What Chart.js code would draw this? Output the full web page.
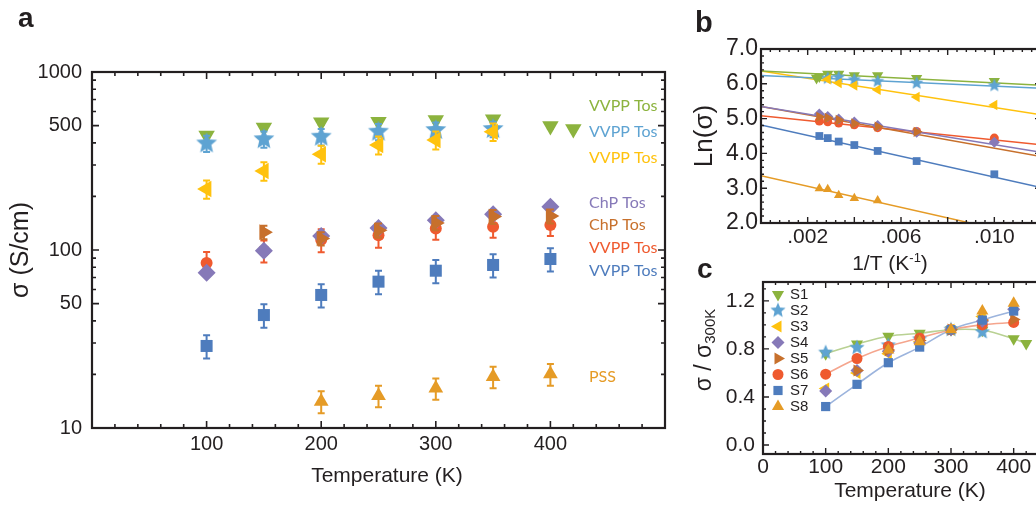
<!DOCTYPE html>
<html>
<head>
<meta charset="utf-8">
<title>Conductivity vs temperature</title>
<script src="https://cdn.jsdelivr.net/npm/chart.js@4.4.1/dist/chart.umd.min.js"></script>
<style>
  html, body { margin: 0; padding: 0; background: #ffffff; overflow: hidden; }
  body { width: 1036px; height: 506px; position: relative; }
  canvas { position: absolute; }
</style>
</head>
<body>
<canvas id="panelA" width="690" height="506" style="left:0px;top:0px"></canvas>
<canvas id="panelB" width="380" height="280" style="left:690px;top:0px"></canvas>
<canvas id="panelC" width="380" height="256" style="left:690px;top:250px"></canvas>
<script>
// ---------- series identity ----------
const SERIES = ['S1', 'S2', 'S3', 'S4', 'S5', 'S6', 'S7', 'S8'];
const MATERIALS = ['VVPP Tos', 'VVPP Tos', 'VVPP Tos', 'ChP Tos', 'ChP Tos', 'VVPP Tos', 'VVPP Tos', 'PSS'];

// ---------- panel a: conductivity (S/cm) vs temperature (K) ----------
const A_T_S1 = [100, 150, 200, 250, 300, 350, 400, 420];
const A_SIGMA_S1 = [440, 487, 522, 526, 537, 542, 497, 478];
const A_ERR_S1 = [14, 15, 16, 16, 16, 16, 15, 14];
const A_T_S2 = [100, 150, 200, 250, 300, 350];
const A_SIGMA_S2 = [397, 419, 433, 462, 472, 478];
const A_ERR_S2 = [42, 44, 46, 48, 48, 48];
const A_T_S3 = [100, 150, 200, 250, 300, 350];
const A_SIGMA_S3 = [220, 278, 345, 389, 415, 462];
const A_ERR_S3 = [26, 33, 40, 45, 48, 52];
const A_T_S4 = [100, 150, 200, 250, 300, 350, 400];
const A_SIGMA_S4 = [74.6, 99, 120, 133, 147, 159, 175];
const A_ERR_S4 = [4, 5, 6, 7, 7, 8, 9];
const A_T_S5 = [150, 200, 250, 300, 350, 400];
const A_SIGMA_S5 = [126, 116, 129, 142, 154, 155];
const A_ERR_S5 = [11, 10, 12, 13, 14, 14];
const A_T_S6 = [100, 150, 200, 250, 300, 350, 400];
const A_SIGMA_S6 = [84.6, 99, 114, 121, 132, 135, 138];
const A_ERR_S6 = [13, 14, 17, 18, 18, 18, 18];
const A_T_S7 = [100, 150, 200, 250, 300, 350, 400];
const A_SIGMA_S7 = [28.9, 43.1, 55.9, 66.4, 76.5, 82.4, 89];
const A_ERR_S7 = [4.3, 6.5, 8.4, 10, 11.5, 12.4, 13.4];
const A_T_S8 = [200, 250, 300, 350, 400];
const A_SIGMA_S8 = [14.1, 15.2, 16.7, 19.4, 20.1];
const A_ERR_S8 = [2.0, 2.1, 2.3, 2.7, 2.8];
const A_X_TICKS = [100, 200, 300, 400];
const A_Y_TICKS = [10, 50, 100, 500, 1000];

// ---------- panel b: Ln(sigma) vs 1/T with linear fits ----------
const B_X_S1 = [0.00238, 0.0025, 0.00286, 0.00333, 0.004, 0.005, 0.00667, 0.01];
const B_LN_S1 = [6.17, 6.21, 6.28, 6.28, 6.24, 6.24, 6.16, 6.07];
const B_X_S2 = [0.00286, 0.00333, 0.004, 0.005, 0.00667, 0.01];
const B_LN_S2 = [6.16, 6.19, 6.12, 6.07, 6.02, 5.95];
const B_X_S3 = [0.00286, 0.00333, 0.004, 0.005, 0.00667, 0.01];
const B_LN_S3 = [6.13, 6.02, 5.95, 5.83, 5.62, 5.39];
const B_X_S4 = [0.0025, 0.00286, 0.00333, 0.004, 0.005, 0.00667, 0.01];
const B_LN_S4 = [5.13, 5.06, 4.99, 4.90, 4.80, 4.61, 4.32];
const B_X_S5 = [0.0025, 0.00286, 0.00333, 0.004, 0.005, 0.00667];
const B_LN_S5 = [5.05, 5.02, 4.96, 4.86, 4.77, 4.62];
const B_X_S6 = [0.0025, 0.00286, 0.00333, 0.004, 0.005, 0.00667, 0.01];
const B_LN_S6 = [4.93, 4.91, 4.87, 4.82, 4.74, 4.63, 4.44];
const B_X_S7 = [0.0025, 0.00286, 0.00333, 0.004, 0.005, 0.00667, 0.01];
const B_LN_S7 = [4.50, 4.44, 4.34, 4.24, 4.07, 3.78, 3.40];
const B_X_S8 = [0.0025, 0.00286, 0.00333, 0.004, 0.005];
const B_LN_S8 = [2.99, 2.97, 2.80, 2.71, 2.65];
// fitted lines, given at the two ends of the 1/T range
const B_FIT_X = [0, 0.012];
const B_FIT_S1 = [6.37, 5.96];
const B_FIT_S2 = [6.24, 5.87];
const B_FIT_S3 = [6.37, 5.11];
const B_FIT_S4 = [5.35, 4.03];
const B_FIT_S5 = [5.35, 3.91];
const B_FIT_S6 = [5.08, 4.25];
const B_FIT_S7 = [4.82, 3.02];
const B_FIT_S8 = [3.36, 1.54];
const B_X_TICKS = [0.002, 0.006, 0.010];
const B_Y_TICKS = [2, 3, 4, 5, 6, 7];

// ---------- panel c: sigma normalised to 300 K ----------
const C_T_S1 = [100, 150, 200, 250, 300, 350, 400, 420];
const C_NORM_S1 = [0.76, 0.84, 0.905, 0.93, 0.96, 0.955, 0.885, 0.845];
const C_T_S2 = [100, 150, 200, 250, 300, 350];
const C_NORM_S2 = [0.77, 0.81, 0.83, 0.88, 0.96, 0.94];
const C_T_S3 = [100, 150, 200, 250, 300, 350];
const C_NORM_S3 = [0.47, 0.60, 0.76, 0.86, 0.96, 1.07];
const C_T_S4 = [100, 150, 200, 250, 300, 350, 400];
const C_NORM_S4 = [0.45, 0.62, 0.78, 0.85, 0.96, 1.03, 1.13];
const C_T_S5 = [150, 200, 250, 300, 350, 400];
const C_NORM_S5 = [0.62, 0.79, 0.87, 0.96, 1.04, 1.045];
const C_T_S6 = [100, 150, 200, 250, 300, 350, 400];
const C_NORM_S6 = [0.59, 0.72, 0.82, 0.89, 0.96, 1.0, 1.02];
const C_T_S7 = [100, 150, 200, 250, 300, 350, 400];
const C_NORM_S7 = [0.32, 0.505, 0.685, 0.815, 0.96, 1.04, 1.115];
const C_T_S8 = [200, 250, 300, 350, 400];
const C_NORM_S8 = [0.79, 0.86, 0.96, 1.115, 1.18];
const C_X_TICKS = [0, 100, 200, 300, 400];
const C_Y_TICKS = [0, 0.4, 0.8, 1.2];

// ---------- styling ----------
const FONT = "'Liberation Sans', Arial, Helvetica, sans-serif";
const LABEL_FONT = "Lato, 'Open Sans', sans-serif";
const INK = '#231f20';
const COLORS = ['#8cb33e', '#5ea3d2', '#ffc20e', '#8679b8', '#c7702c', '#ef5a2f', '#4e7cbd', '#e59b26'];
const CURVE_COLORS = ['#b9d193', null, null, null, null, '#f5a58d', '#9cb4dd', null];
const MARKERS = [
  { style: 'triangle', rotation: 180 },
  { style: 'star', rotation: 0 },
  { style: 'triangle', rotation: 270 },
  { style: 'rectRot', rotation: 0 },
  { style: 'triangle', rotation: 90 },
  { style: 'circle', rotation: 0 },
  { style: 'rect', rotation: 0 },
  { style: 'triangle', rotation: 0 }
];
// stacking of the marker layers (0 = bottom)
const DRAW_RANK = [0, 1, 2, 4, 5, 3, 6, 7];
const RADII_A = [9.5, 11, 9.5, 9, 9, 6, 8.5, 8.5];
const RADII_B = [6.5, 7, 6, 5.5, 6, 4.5, 5.5, 5.5];
const RADII_C = [7, 8, 7, 6.5, 7, 5.5, 6.5, 7];

function starImage(R, color) {
  const s = Math.ceil(2 * R + 2);
  const c = document.createElement('canvas');
  c.width = s; c.height = s;
  const g = c.getContext('2d');
  g.fillStyle = color;
  g.beginPath();
  for (let i = 0; i < 10; i++) {
    const r = i % 2 === 0 ? R : R * 0.45;
    const a = -Math.PI / 2 + i * Math.PI / 5;
    g.lineTo(s / 2 + r * Math.cos(a), s / 2 + r * Math.sin(a));
  }
  g.closePath();
  g.fill();
  return c;
}

function pts(xs, ys) { return xs.map((x, i) => ({ x: x, y: ys[i] })); }

function markerDataset(i, xs, ys, radius, extra) {
  const m = MARKERS[i];
  const style = m.style === 'star' ? starImage(radius, COLORS[i]) : m.style;
  return Object.assign({
    label: SERIES[i],
    data: pts(xs, ys),
    showLine: false,
    pointStyle: style,
    pointRotation: m.rotation,
    pointRadius: radius,
    pointHoverRadius: radius,
    pointBorderWidth: 0,
    borderWidth: 0,
    backgroundColor: COLORS[i],
    borderColor: COLORS[i],
    order: 20 - DRAW_RANK[i]
  }, extra || {});
}

function lineDataset(xs, ys, color, width, tension) {
  return {
    data: pts(xs, ys),
    showLine: true,
    pointRadius: 0,
    pointHoverRadius: 0,
    borderColor: color,
    backgroundColor: color,
    borderWidth: width,
    tension: tension,
    fill: false,
    order: 40
  };
}

function range(from, to, step, skip) {
  const out = [];
  for (let k = 0; from + k * step <= to + 1e-9; k++) {
    const v = +(from + k * step).toFixed(6);
    if (!skip || !skip(v)) out.push(v);
  }
  return out;
}

// ---------- plugins ----------
const errorBarPlugin = {
  id: 'errorBars',
  beforeDatasetDraw(chart, args) {
    const ds = chart.data.datasets[args.index];
    if (!ds.errors) return;
    const ctx = chart.ctx, ys = chart.scales.y;
    ctx.save();
    ctx.strokeStyle = ds.backgroundColor;
    ctx.lineWidth = 2;
    args.meta.data.forEach((el, i) => {
      const d = ds.data[i], e = ds.errors[i];
      const x = el.x;
      const yTop = ys.getPixelForValue(d.y + e);
      const yBot = ys.getPixelForValue(d.y - e);
      ctx.beginPath();
      ctx.moveTo(x, yTop); ctx.lineTo(x, yBot);
      ctx.moveTo(x - 3.5, yTop); ctx.lineTo(x + 3.5, yTop);
      ctx.moveTo(x - 3.5, yBot); ctx.lineTo(x + 3.5, yBot);
      ctx.stroke();
    });
    ctx.restore();
  }
};

const framePlugin = {
  id: 'frame',
  afterDatasetsDraw(chart, args, o) {
    const ctx = chart.ctx, a = chart.chartArea;
    const xs = chart.scales.x, ys = chart.scales.y;
    ctx.save();
    ctx.strokeStyle = INK;
    ctx.lineWidth = o.tickWidth;
    ctx.beginPath();
    const xt = (vals, len) => vals.forEach(v => {
      const p = xs.getPixelForValue(v);
      ctx.moveTo(p, a.bottom); ctx.lineTo(p, a.bottom - len);
      ctx.moveTo(p, a.top); ctx.lineTo(p, a.top + len);
    });
    const yt = (vals, len) => vals.forEach(v => {
      const p = ys.getPixelForValue(v);
      ctx.moveTo(a.left, p); ctx.lineTo(a.left + len, p);
      ctx.moveTo(a.right, p); ctx.lineTo(a.right - len, p);
    });
    xt(o.xMajor, o.major); xt(o.xMinor, o.minor);
    yt(o.yMajor, o.major); yt(o.yMinor, o.minor);
    ctx.stroke();
    ctx.lineWidth = o.width;
    ctx.strokeRect(a.left, a.top, a.right - a.left, a.bottom - a.top);
    ctx.restore();
  }
};

function drawRich(ctx, it) {
  ctx.save();
  ctx.translate(it.x, it.y);
  if (it.rot) ctx.rotate(it.rot);
  ctx.fillStyle = it.color || INK;
  ctx.textBaseline = it.baseline || 'alphabetic';
  ctx.textAlign = 'left';
  const fam = it.family || FONT;
  let total = 0;
  const segs = it.segs.map(s => {
    ctx.font = (s.weight || 'normal') + ' ' + s.size + 'px ' + fam;
    const w = ctx.measureText(s.t).width;
    total += w;
    return Object.assign({ w: w }, s);
  });
  let x = it.align === 'left' ? 0 : -total / 2;
  segs.forEach(s => {
    ctx.font = (s.weight || 'normal') + ' ' + s.size + 'px ' + fam;
    ctx.fillText(s.t, x, s.dy || 0);
    x += s.w;
  });
  ctx.restore();
}

const textPlugin = {
  id: 'texts',
  afterDraw(chart, args, o) { (o.items || []).forEach(it => drawRich(chart.ctx, it)); }
};

const legendPlugin = {
  id: 'markerLegend',
  afterDraw(chart, args, o) {
    if (!o.show) return;
    const ctx = chart.ctx;
    ctx.save();
    o.order.forEach((i, k) => {
      const y = o.y0 + k * o.step;
      const m = MARKERS[i];
      ctx.fillStyle = COLORS[i];
      Chart.helpers.drawPoint(ctx, {
        pointStyle: m.style === 'star' ? starImage(o.radius[i], COLORS[i]) : m.style,
        rotation: m.rotation, radius: o.radius[i], borderWidth: 0
      }, o.markerX, y);
      ctx.fillStyle = INK;
      ctx.font = o.size + 'px ' + FONT;
      ctx.textBaseline = 'middle';
      ctx.textAlign = 'left';
      ctx.fillText(SERIES[i], o.textX, y);
    });
    ctx.restore();
  }
};

function axis(type, min, max, ticks, fmt, size, pad, fit) {
  return {
    type: type, min: min, max: max,
    grid: { display: false, drawTicks: false },
    border: { display: false },
    ticks: {
      font: { family: FONT, size: size }, color: INK, padding: pad,
      autoSkip: false, maxRotation: 0, minRotation: 0, callback: fmt
    },
    afterBuildTicks: s => { s.ticks = ticks.map(v => ({ value: v })); },
    afterFit: fit
  };
}

function baseOptions(padding, scales, plugins) {
  return {
    responsive: false,
    animation: false,
    events: [],
    layout: { padding: padding },
    scales: scales,
    plugins: Object.assign({ legend: { display: false }, tooltip: { enabled: false } }, plugins)
  };
}

const PLUGINS = [errorBarPlugin, framePlugin, textPlugin, legendPlugin];

// ---------- panel a ----------
const A_T = [A_T_S1, A_T_S2, A_T_S3, A_T_S4, A_T_S5, A_T_S6, A_T_S7, A_T_S8];
const A_SIGMA = [A_SIGMA_S1, A_SIGMA_S2, A_SIGMA_S3, A_SIGMA_S4, A_SIGMA_S5, A_SIGMA_S6, A_SIGMA_S7, A_SIGMA_S8];
const A_ERR = [A_ERR_S1, A_ERR_S2, A_ERR_S3, A_ERR_S4, A_ERR_S5, A_ERR_S6, A_ERR_S7, A_ERR_S8];
const A_LABEL_BASELINES = [110.7, 137.3, 163.3, 208.3, 230, 253.3, 276, 382];

new Chart(document.getElementById('panelA'), {
  type: 'scatter',
  data: { datasets: SERIES.map((s, i) => markerDataset(i, A_T[i], A_SIGMA[i], RADII_A[i], { errors: A_ERR[i] })) },
  options: baseOptions({ left: 0, top: 72, right: 25, bottom: 0 }, {
    x: axis('linear', 0, 500, A_X_TICKS, v => String(v), 20, 4, s => { s.height = 78; }),
    y: axis('logarithmic', 10, 1000, A_Y_TICKS, v => String(v), 20, 10, s => { s.width = 92; })
  }, {
    frame: {
      xMajor: A_X_TICKS, xMinor: range(20, 480, 20, v => v % 100 === 0),
      yMajor: A_Y_TICKS, yMinor: [20, 30, 40, 60, 70, 80, 90, 200, 300, 400, 600, 700, 800, 900],
      major: 7, minor: 4, width: 2.2, tickWidth: 1.6
    },
    texts: {
      items: [
        { segs: [{ t: 'a', size: 28, weight: 'bold' }], x: 18, y: 27, align: 'left' },
        { segs: [{ t: 'σ (S/cm)', size: 25 }], x: 21, y: 250, rot: -Math.PI / 2, baseline: 'middle' },
        { segs: [{ t: 'Temperature (K)', size: 21 }], x: 387, y: 482 }
      ].concat(MATERIALS.map((m, i) => ({
        segs: [{ t: m, size: 16 }], x: 589, y: A_LABEL_BASELINES[i], align: 'left',
        color: COLORS[i], family: LABEL_FONT
      })))
    },
    markerLegend: { show: false }
  }),
  plugins: PLUGINS
});

// ---------- panel b ----------
const B_X = [B_X_S1, B_X_S2, B_X_S3, B_X_S4, B_X_S5, B_X_S6, B_X_S7, B_X_S8];
const B_LN = [B_LN_S1, B_LN_S2, B_LN_S3, B_LN_S4, B_LN_S5, B_LN_S6, B_LN_S7, B_LN_S8];
const B_FIT = [B_FIT_S1, B_FIT_S2, B_FIT_S3, B_FIT_S4, B_FIT_S5, B_FIT_S6, B_FIT_S7, B_FIT_S8];

new Chart(document.getElementById('panelB'), {
  type: 'scatter',
  data: {
    datasets: SERIES.map((s, i) => lineDataset(B_FIT_X, B_FIT[i], COLORS[i], 1.5, 0))
      .concat(SERIES.map((s, i) => markerDataset(i, B_X[i], B_LN[i], RADII_B[i])))
  },
  options: baseOptions({ left: 0, top: 49, right: 29, bottom: 0 }, {
    x: axis('linear', 0, 0.012, B_X_TICKS, v => v.toFixed(3).replace(/^0/, ''), 21, 2, s => { s.height = 57; }),
    y: axis('linear', 2, 7, B_Y_TICKS, v => v.toFixed(1), 23, 3, s => { s.width = 71; })
  }, {
    frame: {
      xMajor: range(0.002, 0.012, 0.002), xMinor: range(0.0004, 0.012, 0.0004),
      yMajor: B_Y_TICKS, yMinor: range(2.2, 6.8, 0.2, v => Math.abs(v - Math.round(v)) < 1e-6),
      major: 6, minor: 3, width: 2.2, tickWidth: 1.4
    },
    texts: {
      items: [
        { segs: [{ t: 'b', size: 29, weight: 'bold' }], x: 5, y: 32, align: 'left' },
        { segs: [{ t: 'Ln(σ)', size: 26 }], x: 15, y: 136, rot: -Math.PI / 2, baseline: 'middle' },
        { segs: [{ t: '1/T (K', size: 21 }, { t: '-1', size: 13, dy: -8 }, { t: ')', size: 21 }], x: 200, y: 269.5 }
      ]
    },
    markerLegend: { show: false }
  }),
  plugins: PLUGINS
});

// ---------- panel c ----------
const C_T = [C_T_S1, C_T_S2, C_T_S3, C_T_S4, C_T_S5, C_T_S6, C_T_S7, C_T_S8];
const C_NORM = [C_NORM_S1, C_NORM_S2, C_NORM_S3, C_NORM_S4, C_NORM_S5, C_NORM_S6, C_NORM_S7, C_NORM_S8];

new Chart(document.getElementById('panelC'), {
  type: 'scatter',
  data: {
    datasets: [0, 5, 6].map(i => lineDataset(C_T[i], C_NORM[i], CURVE_COLORS[i], 1.6, 0.4))
      .concat(SERIES.map((s, i) => markerDataset(i, C_T[i], C_NORM[i], RADII_C[i])))
  },
  options: baseOptions({ left: 0, top: 32, right: 25, bottom: 0 }, {
    x: axis('linear', 0, 450, C_X_TICKS, v => String(v), 21, 1, s => { s.height = 52; }),
    y: axis('linear', -0.075, 1.357, C_Y_TICKS, v => v.toFixed(1), 21, 8, s => { s.width = 73; })
  }, {
    frame: {
      xMajor: C_X_TICKS, xMinor: range(20, 440, 20, v => v % 100 === 0),
      yMajor: C_Y_TICKS, yMinor: range(0.1, 1.3, 0.1, v => Math.abs(v * 10 % 4) < 1e-6),
      major: 6, minor: 3, width: 2.2, tickWidth: 1.4
    },
    texts: {
      items: [
        { segs: [{ t: 'c', size: 28, weight: 'bold' }], x: 7, y: 28, align: 'left' },
        { segs: [{ t: 'σ / σ', size: 23 }, { t: '300K', size: 15, dy: 6 }], x: 15, y: 100, rot: -Math.PI / 2, baseline: 'middle' },
        { segs: [{ t: 'Temperature (K)', size: 21 }], x: 220, y: 247.3 }
      ]
    },
    markerLegend: {
      show: true, order: [0, 1, 2, 3, 4, 5, 6, 7], y0: 44.5, step: 16,
      markerX: 88, textX: 100, size: 15, radius: RADII_C
    }
  }),
  plugins: PLUGINS
});
</script>
</body>
</html>
